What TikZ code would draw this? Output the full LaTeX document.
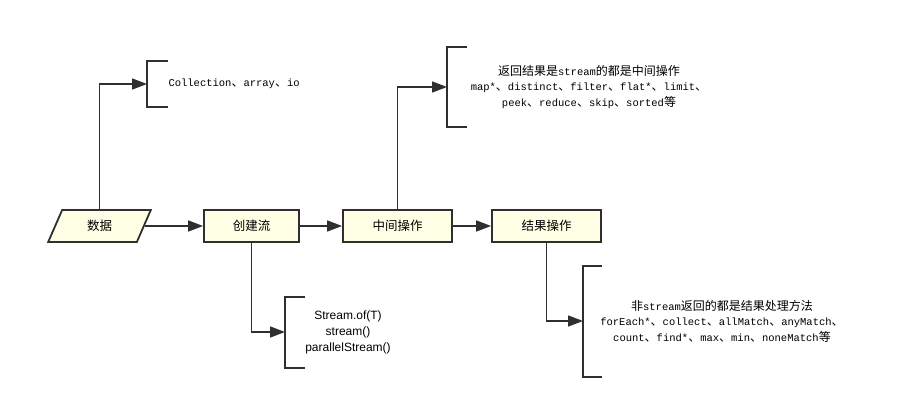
\documentclass[tikz,border=0pt]{standalone}
\usepackage{fontspec}
\setmainfont{Liberation Sans}
\setmonofont{Liberation Mono}
\newfontfamily\cjk{Noto Sans CJK SC}
\usetikzlibrary{arrows.meta,shapes.geometric}

\definecolor{line}{HTML}{2F2F2F}
\definecolor{boxfill}{HTML}{FFFFE5}
\newcommand\zh[1]{{\cjk\fontsize{12}{15.5}\selectfont #1}}

\begin{document}
\begin{tikzpicture}[x=1pt, y=-1pt,
  box/.style={draw=line, fill=boxfill, line width=1.8pt,
    minimum height=32pt, font=\cjk\fontsize{12.5}{14}\selectfont},
  arr/.style={draw=line, line width=1.6pt, -{Triangle[length=15pt,width=11pt]}},
  bracket/.style={draw=line, line width=1.8pt},
  note/.style={align=center, font=\ttfamily\fontsize{10.5}{15.5}\selectfont},
]
  \useasboundingbox (0,0) rectangle (897,409);
  % main flow
  \node[box, trapezium, trapezium left angle=72, trapezium right angle=108,
    trapezium stretches=true, minimum width=103pt] (data) at (99.5,226) {数据};
  \node[box, minimum width=95pt] (create) at (251.5,226) {创建流};
  \node[box, minimum width=109pt] (mid) at (397.5,226) {中间操作};
  \node[box, minimum width=109pt] (result) at (546.5,226) {结果操作};
  \draw[arr] (data.east) -- (create.west);
  \draw[arr] (create.east) -- (mid.west);
  \draw[arr] (mid.east) -- (result.west);

  % sources
  \coordinate (srcb) at (147,84);
  \draw[bracket] (srcb) ++(21,-23) -- ++(-21,0) -- ++(0,46) -- ++(21,0);
  \node[note, anchor=west] (src) at (165,84) {Collection\zh{、}array\zh{、}io};
  \draw[arr] (data.north) |- (srcb);

  % intermediate operations
  \coordinate (opsb) at (447,87);
  \draw[bracket] (opsb) ++(20,-40) -- ++(-20,0) -- ++(0,80) -- ++(20,0);
  \node[note] (ops) at (589,87) {\zh{返回结果是}stream\zh{的都是中间操作}\\
    map*\zh{、}distinct\zh{、}filter\zh{、}flat*\zh{、}limit\zh{、}\\
    peek\zh{、}reduce\zh{、}skip\zh{、}sorted\zh{等}};
  \draw[arr] (mid.north) |- (opsb);

  % creating a stream
  \coordinate (ctorb) at (285,332);
  \draw[bracket] (ctorb) ++(20,-35) -- ++(-20,0) -- ++(0,71) -- ++(20,0);
  \node[align=center, font=\fontsize{12}{16}\selectfont] (ctor) at (348,332)
    {Stream.of(T)\\stream()\\parallelStream()};
  \draw[arr] (create.south) |- (ctorb);

  % terminal operations
  \coordinate (endb) at (583,321);
  \draw[bracket] (endb) ++(19,-55) -- ++(-19,0) -- ++(0,111) -- ++(19,0);
  \node[note] (ends) at (722,321) {\zh{非}stream\zh{返回的都是结果处理方法}\\
    forEach*\zh{、}collect\zh{、}allMatch\zh{、}anyMatch\zh{、}\\
    count\zh{、}find*\zh{、}max\zh{、}min\zh{、}noneMatch\zh{等}};
  \draw[arr] (result.south) |- (endb);
\end{tikzpicture}
\end{document}
